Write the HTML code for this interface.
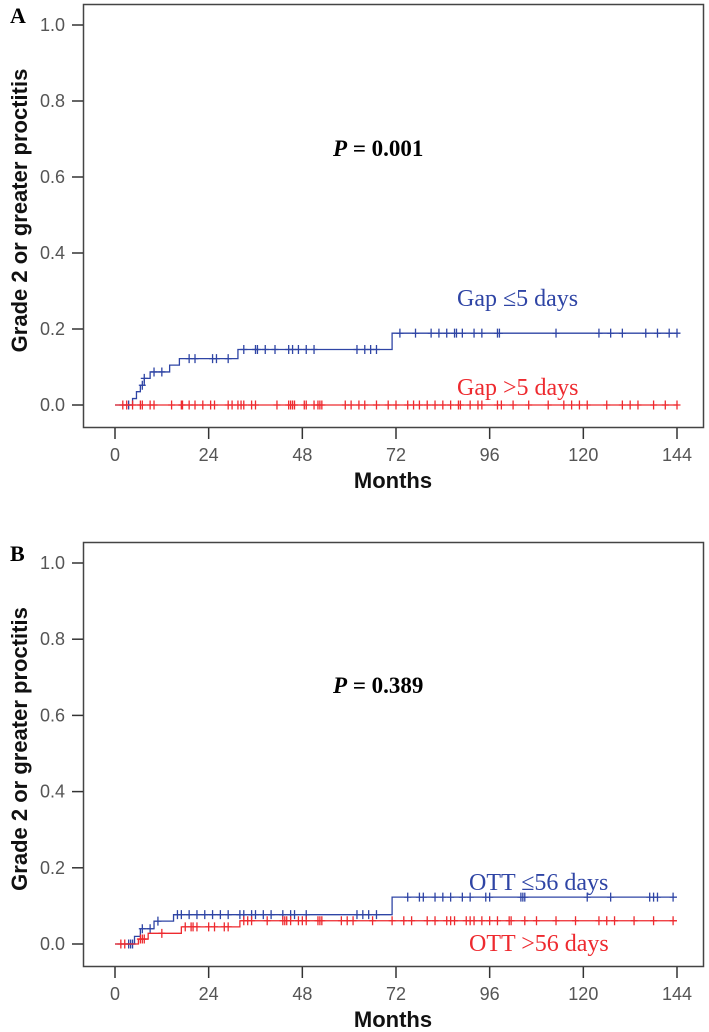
<!DOCTYPE html>
<html><head><meta charset="utf-8"><style>
html,body{margin:0;padding:0;background:#fff;}
svg{display:block;}
</style></head><body>
<svg id="chart" width="709" height="1032" viewBox="0 0 709 1032" xmlns="http://www.w3.org/2000/svg"></svg>
<script>
// ---- data ----
const xTicks = [0, 24, 48, 72, 96, 120, 144];
const yTicks = [0.0, 0.2, 0.4, 0.6, 0.8, 1.0];
// Panel A
const aBlueTimes = [0, 4.5, 5.5, 6.5, 7.5, 9, 14, 16.5, 31.5, 71];
const aBlueVals = [0, 0.017, 0.035, 0.052, 0.07, 0.087, 0.105, 0.122, 0.146, 0.189];
const aBlueEnd = 144;
const aBlueCens = [3.5, 7, 7.5, 10, 12, 19, 20.5, 25, 26, 29, 33, 36, 36.5, 38.5, 41, 44.5, 45.5, 47, 49, 51, 62, 64, 65.5, 67, 73, 77, 81, 83, 85, 87, 87.5, 89, 92, 94, 98, 98.5, 113, 124, 127, 130, 136, 139, 142, 144];
const aRedTimes = [0];
const aRedVals = [0];
const aRedEnd = 144;
const aRedCens = [2, 3, 4.5, 6.5, 7, 9, 10, 14.5, 17, 17.3, 19, 20.5, 22.5, 24.5, 25.5, 29, 30, 31.5, 32.3, 33, 35, 36, 41.5, 44.5, 45, 45.5, 46, 48.5, 49, 51, 52, 52.5, 53, 59, 60.5, 62.5, 64, 67, 70, 72, 75, 76.5, 78, 80, 82, 84, 86, 88, 88.5, 91, 93, 94, 98, 99, 102, 106, 111, 115, 117, 119, 121, 126, 130, 132, 134, 138, 141, 144];
// Panel B
const bBlueTimes = [0, 5, 6.5, 10, 15, 71];
const bBlueVals = [0, 0.02, 0.04, 0.06, 0.077, 0.123];
const bBlueEnd = 144;
const bBlueCens = [3.5, 4, 4.5, 7, 9, 11, 16, 17, 19, 21, 23, 25, 27, 29, 32, 33, 35, 36, 38, 40, 43, 45, 46, 49, 62, 63.5, 65, 67, 75, 78, 79, 82, 84, 86, 89, 91, 95, 96, 104, 104.5, 105, 121, 127, 137, 138, 139, 143];
const bRedTimes = [0, 6, 8.5, 17, 32];
const bRedVals = [0, 0.013, 0.028, 0.045, 0.061];
const bRedEnd = 144;
const bRedCens = [1.5, 2.5, 6.5, 7, 7.5, 12, 18, 19.5, 20, 21, 24, 25.5, 28, 29, 33, 34, 35, 39, 43, 43.5, 44, 45, 47, 48, 49, 52, 52.5, 53, 58, 59.5, 61, 66, 71, 74, 76, 80, 82, 85, 86, 87, 90, 91, 92, 94, 96, 98, 101, 101.5, 105, 108, 113, 118, 124, 126, 128, 133, 138, 143];

const NS = "http://www.w3.org/2000/svg";
const svg = document.getElementById('chart');
function mk(tag, attrs, parent) {
  const e = document.createElementNS(NS, tag);
  for (const k in attrs) e.setAttribute(k, attrs[k]);
  (parent || svg).appendChild(e);
  return e;
}

function panel(p) {
  const g = mk('g', {});
  
  
  const x = t => 115 + t * (677 - 115) / 144;
  const y = v => p.y0 - v * (p.y0 - p.y1);
  const fr = mk('rect', {x: 83.5, y: p.top + 0.5, width: 620, height: p.bot - p.top, fill: 'none', stroke: '#444', 'stroke-width': 1.5}, g);
  
  
  const L = mk('text', {x: 10, y: p.top + 19, 'font-family': 'Liberation Serif, serif', 'font-weight': 'bold', 'font-size': 22, fill: '#000'}, g);
  L.textContent = p.id;
  
  
  yTicks.forEach(v => {
    const t = mk('line', {x1: 72, x2: 83, y1: y(v), y2: y(v), stroke: '#333', 'stroke-width': 1.5}, g);
    
    
    const tl = mk('text', {x: 65, y: y(v) + 6, 'text-anchor': 'end', 'font-family': 'Liberation Sans, sans-serif', 'font-size': 18, fill: '#555'}, g);
    tl.textContent = v.toFixed(1);
    
    
  });
  xTicks.forEach(v => {
    const t = mk('line', {x1: x(v), x2: x(v), y1: p.bot + 1, y2: p.bot + 12, stroke: '#333', 'stroke-width': 1.5}, g);
    
    
    const tl = mk('text', {x: x(v), y: p.bot + 34, 'text-anchor': 'middle', 'font-family': 'Liberation Sans, sans-serif', 'font-size': 18, fill: '#555'}, g);
    tl.textContent = v;
    
    
  });
  const xt = mk('text', {x: 393, y: p.bot + 61, 'text-anchor': 'middle', 'font-family': 'Liberation Sans, sans-serif', 'font-weight': 'bold', 'font-size': 22, fill: '#111'}, g);
  xt.textContent = 'Months';
  
  
  const cy = (p.top + p.bot) / 2 - 5;
  const yt = mk('text', {x: 0, y: 0, transform: 'translate(27,' + cy + ') rotate(-90)', 'text-anchor': 'middle', 'font-family': 'Liberation Sans, sans-serif', 'font-weight': 'bold', 'font-size': 22, fill: '#111'}, g);
  yt.textContent = 'Grade 2 or greater proctitis';
  
  
  p.series.forEach(s => {
    let d = 'M' + x(s.times[0]) + ',' + y(s.vals[0]);
    for (let i = 1; i < s.times.length; i++) {
      d += ' H' + x(s.times[i]) + ' V' + y(s.vals[i]);
    }
    d += ' H' + x(s.end);
    const path = mk('path', {d: d, fill: 'none', stroke: s.color, 'stroke-width': 1.3}, g);
    
    
    s.cens.forEach(c => {
      let v = s.vals[0];
      for (let i = 0; i < s.times.length; i++) if (s.times[i] <= c) v = s.vals[i];
      const m = mk('path', {d: 'M' + (x(c) - 3.5) + ',' + y(v) + ' H' + (x(c) + 3.5) + ' M' + x(c) + ',' + (y(v) - 4.5) + ' V' + (y(v) + 4.5), stroke: s.color, 'stroke-width': 1.3, fill: 'none'}, g);
      
      
    });
    const lab = mk('text', {x: s.lx, y: s.ly, 'font-family': 'Liberation Serif, serif', 'font-size': 24, fill: s.color}, g);
    lab.textContent = s.label;
    
    
  });
  const pv = mk('text', {x: 333, y: p.py, 'font-family': 'Liberation Serif, serif', 'font-weight': 'bold', 'font-size': 23, fill: '#000'}, g);
  const it = mk('tspan', {'font-style': 'italic'}, pv);
  it.textContent = 'P';
  const rest = mk('tspan', {}, pv);
  rest.textContent = ' = ' + p.pval;
  
  
}

panel({id: 'A', top: 4, bot: 427, y0: 405, y1: 25, py: 156, pval: '0.001', series: [
  {name: 'gap-le5', color: '#2f45a5', times: aBlueTimes, vals: aBlueVals, end: aBlueEnd, cens: aBlueCens, label: 'Gap ≤5 days', lx: 457, ly: 306},
  {name: 'gap-gt5', color: '#ee2a2f', times: aRedTimes, vals: aRedVals, end: aRedEnd, cens: aRedCens, label: 'Gap >5 days', lx: 457, ly: 395}
]});
panel({id: 'B', top: 542, bot: 966, y0: 944, y1: 563, py: 693, pval: '0.389', series: [
  {name: 'ott-le56', color: '#2f45a5', times: bBlueTimes, vals: bBlueVals, end: bBlueEnd, cens: bBlueCens, label: 'OTT ≤56 days', lx: 469, ly: 890},
  {name: 'ott-gt56', color: '#ee2a2f', times: bRedTimes, vals: bRedVals, end: bRedEnd, cens: bRedCens, label: 'OTT >56 days', lx: 469, ly: 951}
]});
</script>
</body></html>
